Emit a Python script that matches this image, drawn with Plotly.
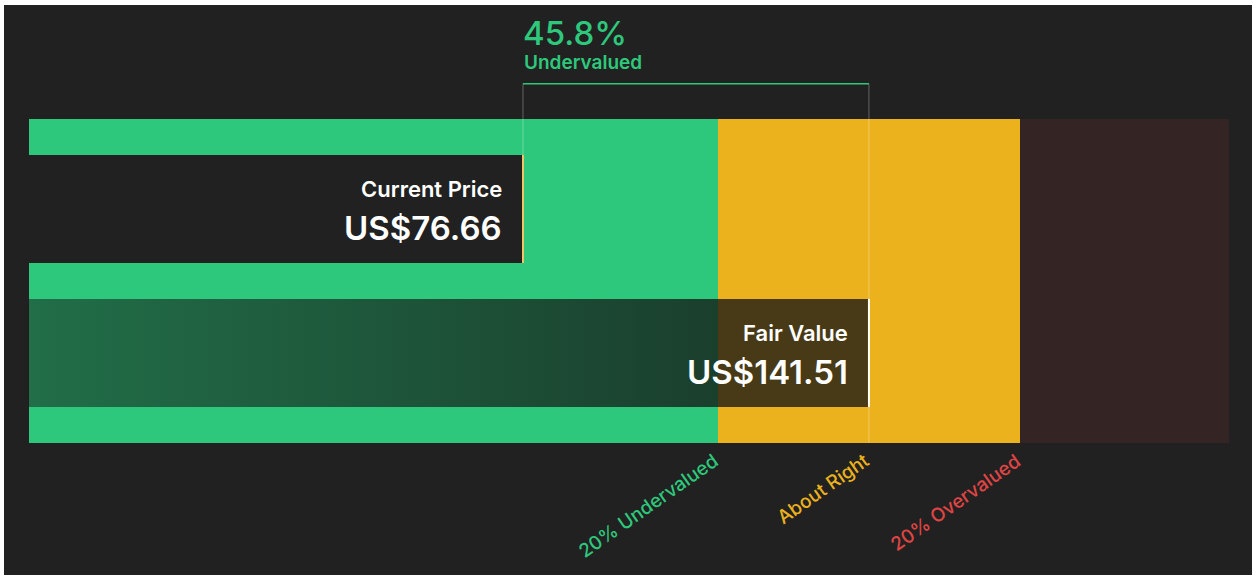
import plotly.graph_objects as go

# values
categories = ["Current Price", "Fair Value"]
prices = [76.66, 141.51]
zone_names = ["20% Undervalued", "About Right", "20% Overvalued"]
zone_factors = [0.8, 1.2]          # zone boundaries as a share of fair value
scale_min, scale_max = -16, 209    # ends of the coloured band

current_price, fair_value = prices
discount = (fair_value - current_price) / fair_value * 100

BG = "#212121"
GREEN = "#2ec87c"
YELLOW = "#ebb21e"
RED_ZONE = "#352424"
RED_TEXT = "#e04545"
FONT = "Inter"

zone_edges = [scale_min] + [f * fair_value for f in zone_factors] + [scale_max]
zone_colors = [GREEN, YELLOW, RED_ZONE]

fig = go.Figure()

# background band (three valuation zones)
for i, col in enumerate(zone_colors):
    fig.add_trace(go.Bar(
        y=[0.5], x=[zone_edges[i + 1] - zone_edges[i]], base=[zone_edges[i]],
        orientation="h", width=2.25, marker=dict(color=col, line=dict(width=0)),
        hoverinfo="skip", showlegend=False))

# current price bar
fig.add_trace(go.Bar(
    y=[0], x=[current_price - scale_min], base=[scale_min], orientation="h",
    width=0.75, marker=dict(color=BG, line=dict(width=0)),
    hoverinfo="skip", showlegend=False))

# fair value bar: dark overlay with a left-to-right gradient
fig.add_trace(go.Scatter(
    x=[scale_min, fair_value, fair_value, scale_min, scale_min],
    y=[1 - 0.375, 1 - 0.375, 1 + 0.375, 1 + 0.375, 1 - 0.375],
    mode="lines", line=dict(width=0), fill="toself",
    fillgradient=dict(type="horizontal", colorscale=[
        [0, "rgba(20,20,20,0.50)"], [0.82, "rgba(20,20,20,0.76)"], [1, "rgba(20,20,20,0.76)"]]),
    hoverinfo="skip", showlegend=False))

shapes = [
    # right edges of the two bars
    dict(type="line", x0=current_price, x1=current_price, y0=-0.375, y1=0.375,
         line=dict(color="#f3c36a", width=2)),
    dict(type="line", x0=fair_value, x1=fair_value, y0=0.625, y1=1.375,
         line=dict(color="white", width=2)),
    # bracket showing the discount
    dict(type="line", x0=current_price, x1=current_price, y0=-0.87, y1=-0.375,
         line=dict(color="rgba(255,255,255,0.3)", width=1)),
    dict(type="line", x0=fair_value, x1=fair_value, y0=-0.87, y1=1.625,
         line=dict(color="rgba(255,255,255,0.3)", width=1)),
    dict(type="line", x0=current_price, x1=fair_value, y0=-0.87, y1=-0.87,
         line=dict(color=GREEN, width=1.5)),
]

annotations = [
    dict(x=current_price, y=-1.22, text=f"{discount:.1f}%", showarrow=False,
         xanchor="left", yanchor="middle", xshift=-2,
         font=dict(family=FONT, size=33, color=GREEN, weight=500)),
    dict(x=current_price, y=-1.02, text="Undervalued", showarrow=False,
         xanchor="left", yanchor="middle", xshift=-1,
         font=dict(family=FONT, size=19, color=GREEN, weight=600)),
]

for yc, name, price in zip([0, 1], categories, prices):
    annotations.append(dict(x=price, y=yc - 0.14, text=name, showarrow=False,
                            xanchor="right", yanchor="middle", xshift=-19,
                            font=dict(family=FONT, size=22, color="white", weight=600)))
    annotations.append(dict(x=price, y=yc + 0.13, text=f"US${price:.2f}", showarrow=False,
                            xanchor="right", yanchor="middle", xshift=-19,
                            font=dict(family=FONT, size=33, color="white", weight=600)))

# rotated zone labels under the band
label_x = [zone_factors[0] * fair_value, fair_value, zone_factors[1] * fair_value]
label_colors = [GREEN, YELLOW, RED_TEXT]
for x, name, col in zip(label_x, zone_names, label_colors):
    annotations.append(dict(x=x, y=1.625, text=name, showarrow=False, textangle=-35,
                            xanchor="right", yanchor="top", xshift=8, yshift=-3,
                            font=dict(family=FONT, size=19, color=col, weight=500)))

fig.update_layout(
    width=1260, height=582,
    margin=dict(l=4, r=8, t=5, b=7),
    paper_bgcolor="white", plot_bgcolor=BG,
    barmode="overlay", bargap=0,
    shapes=shapes, annotations=annotations,
    xaxis=dict(range=[-20.62, 213.31], visible=False, fixedrange=True),
    yaxis=dict(range=[2.5417, -1.4167], visible=False, fixedrange=True),
    showlegend=False,
)

fig.write_html("out.html", config={"displayModeBar": False},
               post_script="document.body.style.margin='0';")
